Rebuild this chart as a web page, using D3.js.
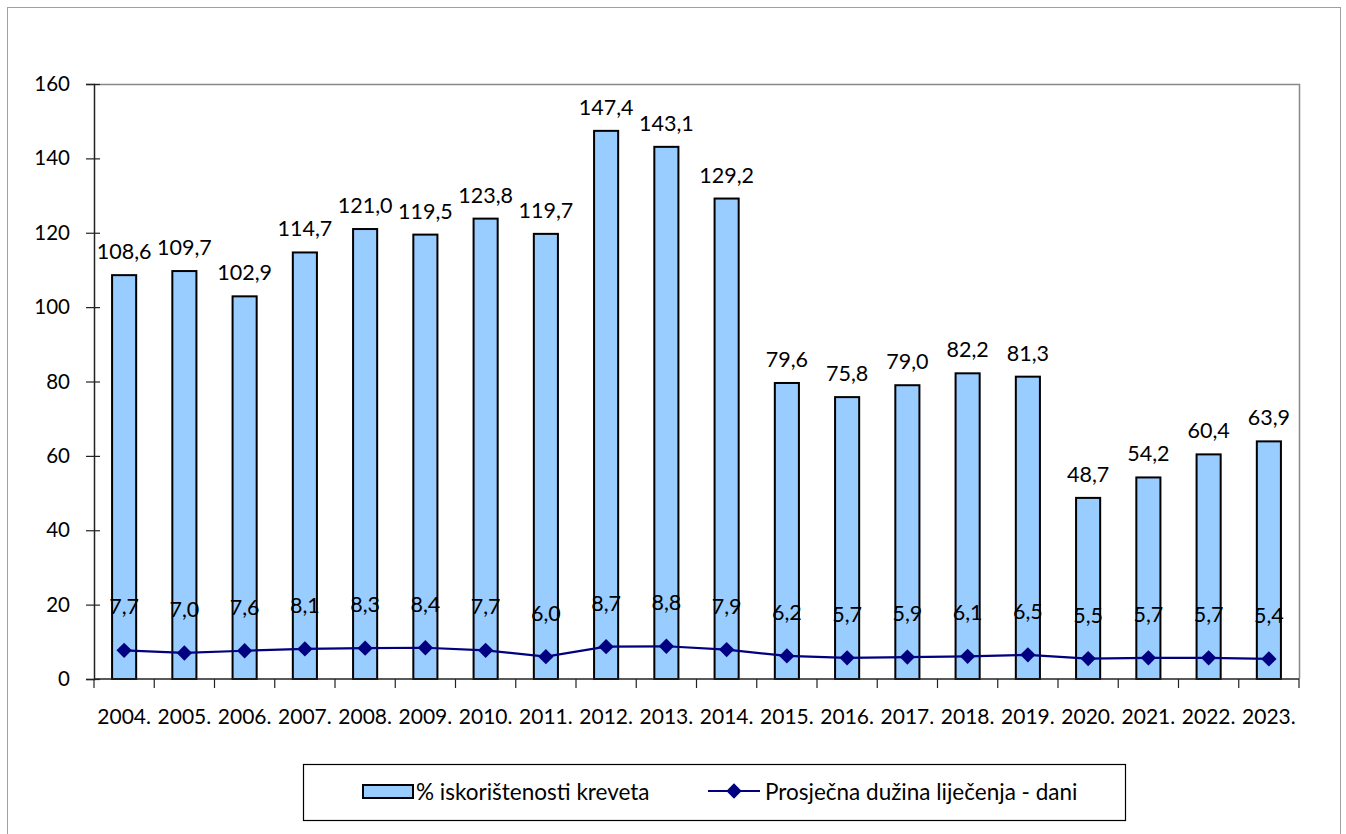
<!DOCTYPE html>
<html><head><meta charset="utf-8">
<script src="https://cdn.jsdelivr.net/npm/d3@7"></script>
<style>body{margin:0;background:#fff}svg{display:block}text{font-family:Lato,"Open Sans",sans-serif;fill:#000}</style>
</head><body><svg id="c" width="1346" height="834"></svg>
<script>
const years = ["2004.","2005.","2006.","2007.","2008.","2009.","2010.","2011.","2012.","2013.","2014.","2015.","2016.","2017.","2018.","2019.","2020.","2021.","2022.","2023."];
const occupancy = [108.6,109.7,102.9,114.7,121.0,119.5,123.8,119.7,147.4,143.1,129.2,79.6,75.8,79.0,82.2,81.3,48.7,54.2,60.4,63.9];
const stayDays = [7.7,7.0,7.6,8.1,8.3,8.4,7.7,6.0,8.7,8.8,7.9,6.2,5.7,5.9,6.1,6.5,5.5,5.7,5.7,5.4];
const yTicks = [0,20,40,60,80,100,120,140,160];
const seriesNames = ["% iskorištenosti kreveta","Prosječna dužina liječenja - dani"];

const svg = d3.select("#c");
const fmt = v => v.toFixed(1).replace(".", ",");
const L = 94, R = 1299, T = 84, B = 679;

svg.append("rect").attr("x",7.5).attr("y",7.5).attr("width",1333).attr("height",840)
  .attr("fill","none").attr("stroke","#a0a0a0").attr("stroke-width",1);

const x = d3.scaleBand().domain(years).range([L,R]).paddingInner(0.6).paddingOuter(0.3);
const xb = d3.scaleBand().domain(years).range([L,R]);
const y = d3.scaleLinear().domain([0,160]).range([B,T]);

svg.append("path").attr("d",`M${L},${T+0.5}H${R+0.5}V${B}`).attr("fill","none").attr("stroke","#888").attr("stroke-width",1.5);

svg.append("g").selectAll("rect").data(occupancy).join("rect")
  .attr("x",(d,i)=>x(years[i])).attr("width",x.bandwidth())
  .attr("y",d=>y(d)).attr("height",d=>B-y(d))
  .attr("fill","#99ccff").attr("stroke","#000").attr("stroke-width",2);

const ya = svg.append("g").attr("transform",`translate(${L},0)`)
  .call(d3.axisLeft(y).tickValues(yTicks).tickSize(8).tickPadding(14));
ya.select(".domain").attr("stroke","#222").attr("stroke-width",1.5);
ya.selectAll(".tick line").attr("stroke","#222").attr("stroke-width",1.2).attr("x2",6).attr("x1",-8);
ya.selectAll("text").style("font-size","20.5px").attr("dx","-2");

const xa = svg.append("g").attr("transform",`translate(0,${B})`);
xa.append("line").attr("x1",L).attr("x2",R).attr("stroke","#222").attr("stroke-width",1.5);
xa.selectAll("line.t").data(years.concat(["end"])).join("line").attr("class","t")
  .attr("x1",(d,i)=>i<years.length?xb(d):R).attr("x2",(d,i)=>i<years.length?xb(d):R)
  .attr("y1",0).attr("y2",9).attr("stroke","#222").attr("stroke-width",1.2);
xa.selectAll("text").data(years).join("text")
  .attr("x",d=>xb(d)+xb.bandwidth()/2).attr("y",45).attr("text-anchor","middle")
  .style("font-size","21px").text(d=>d);

svg.append("g").selectAll("text").data(occupancy).join("text")
  .attr("x",(d,i)=>x(years[i])+x.bandwidth()/2).attr("y",d=>y(d)-16)
  .attr("text-anchor","middle").style("font-size","21.5px").text(fmt);

const cx = i => xb(years[i])+xb.bandwidth()/2;
svg.append("path").datum(stayDays)
  .attr("d",d3.line().x((d,i)=>cx(i)).y(d=>y(d)))
  .attr("fill","none").attr("stroke","#000080").attr("stroke-width",2.2);
const diamond = d3.symbol().type(d3.symbolDiamond2).size(150);
svg.append("g").selectAll("path").data(stayDays).join("path")
  .attr("d",diamond).attr("transform",(d,i)=>`translate(${cx(i)},${y(d)})`).attr("fill","#000080");
svg.append("g").selectAll("text").data(stayDays).join("text")
  .attr("x",(d,i)=>cx(i)).attr("y",d=>y(d)-36)
  .attr("text-anchor","middle").style("font-size","21.5px").text(fmt);

const lg = svg.append("g");
lg.append("rect").attr("x",303.5).attr("y",764.5).attr("width",822).attr("height",56)
  .attr("fill","#fff").attr("stroke","#000").attr("stroke-width",1.2);
lg.append("rect").attr("x",363).attr("y",785).attr("width",50).attr("height",13)
  .attr("fill","#99ccff").attr("stroke","#000").attr("stroke-width",2);
lg.append("text").attr("x",416).attr("y",800).style("font-size","22.5px").text(seriesNames[0]);
lg.append("line").attr("x1",708).attr("x2",760).attr("y1",791).attr("y2",791).attr("stroke","#000080").attr("stroke-width",2.2);
lg.append("path").attr("d",diamond).attr("transform","translate(734,791)").attr("fill","#000080");
lg.append("text").attr("x",765).attr("y",800).style("font-size","22.5px").text(seriesNames[1]);
</script></body></html>
